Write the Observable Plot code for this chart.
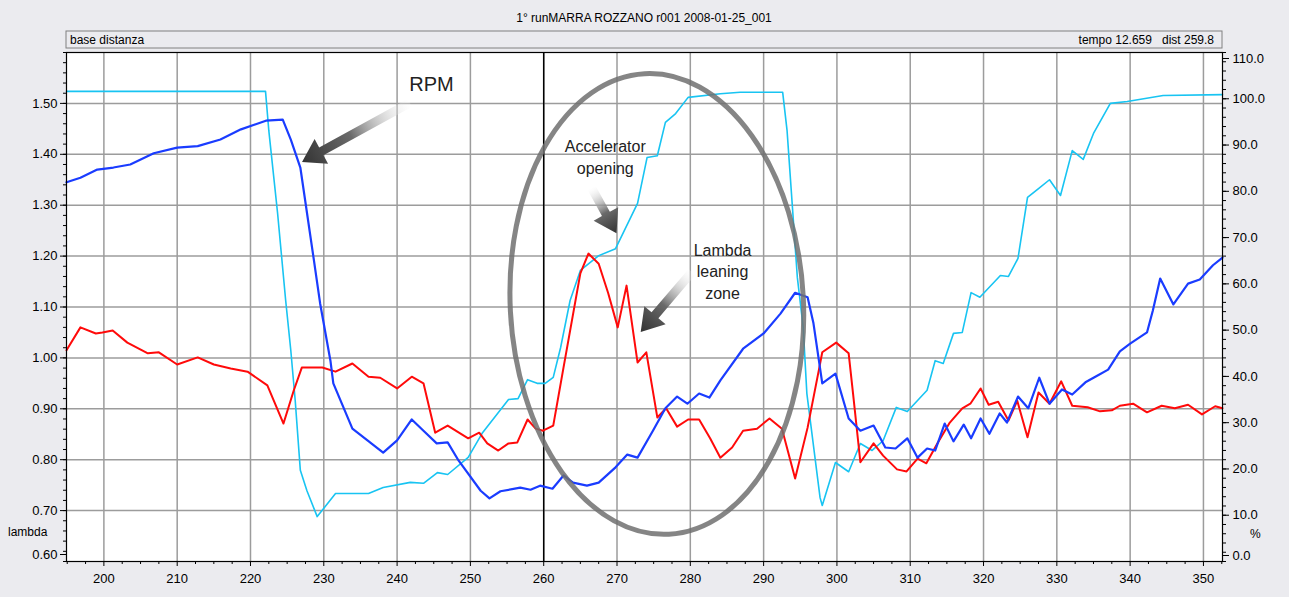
<!DOCTYPE html>
<html><head><meta charset="utf-8">
<script src="https://cdn.jsdelivr.net/npm/d3@7"></script>
<script src="https://cdn.jsdelivr.net/npm/@observablehq/plot@0.6"></script>
<style>
html,body{margin:0;padding:0;background:#ebebef;}
#chart{width:1289px;height:597px;overflow:hidden;}
</style></head>
<body><div id="chart"></div>
<script>
// ---- Texts ----
const titleText = "1° runMARRA ROZZANO r001 2008-01-25_001";
const headerLeft = "base distanza";
const headerRight = "tempo 12.659   dist 259.8";
const leftAxisName = "lambda";
const rightAxisName = "%";

// ---- Axis ticks ----
const xTicks = [200,210,220,230,240,250,260,270,280,290,300,310,320,330,340,350];
const lambdaTicks = [0.60,0.70,0.80,0.90,1.00,1.10,1.20,1.30,1.40,1.50];
const pctTicks = [0,10,20,30,40,50,60,70,80,90,100,110];
const cursorDistance = [260];

// ---- Lambda (red, left axis) ----
const lambdaX = [194.9,196.8,198.9,199.8,201.2,203.2,206.0,207.5,210.0,212.8,215.0,217.3,219.6,222.3,224.5,225.9,227.0,229.8,231.6,233.9,236.1,237.7,240.0,242.0,243.6,245.2,246.9,249.7,251.2,252.3,253.8,255.2,256.4,257.8,258.9,259.9,261.3,262.7,265.0,266.1,267.5,268.8,270.1,271.3,272.8,274.0,275.5,276.7,278.2,279.7,281.2,282.7,284.1,285.7,287.2,289.1,290.8,292.5,294.3,296.0,297.6,298.0,299.9,301.6,302.2,303.2,305.0,306.3,308.2,309.5,311.0,312.2,313.7,315.4,317.1,318.2,319.6,320.7,322.0,323.4,324.6,326.0,327.5,329.0,330.6,332.1,334.2,335.9,337.5,338.6,340.4,342.3,344.3,346.1,347.9,349.8,351.6,352.6];
const lambdaY = [1.015,1.060,1.048,1.050,1.054,1.030,1.009,1.011,0.987,1.001,0.987,0.979,0.973,0.946,0.871,0.936,0.981,0.981,0.973,0.989,0.963,0.961,0.940,0.963,0.950,0.853,0.867,0.842,0.853,0.832,0.818,0.832,0.834,0.879,0.861,0.857,0.867,0.981,1.166,1.205,1.185,1.127,1.060,1.142,0.991,1.011,0.883,0.901,0.865,0.879,0.879,0.842,0.804,0.824,0.857,0.861,0.881,0.861,0.763,0.863,0.981,1.011,1.030,1.009,0.930,0.795,0.832,0.808,0.781,0.777,0.802,0.793,0.832,0.873,0.901,0.910,0.940,0.908,0.914,0.877,0.916,0.844,0.932,0.910,0.954,0.906,0.903,0.895,0.897,0.906,0.910,0.893,0.906,0.901,0.908,0.889,0.905,0.901];

// ---- RPM (blue, no own axis: values as read on the lambda scale) ----
const rpmX = [194.9,196.8,199.1,201.3,203.6,206.8,210.0,212.8,215.9,218.7,222.1,224.4,225.5,226.8,228.6,229.5,230.9,231.3,233.9,238.1,240.0,242.0,243.6,245.4,246.9,248.4,251.4,252.6,254.1,256.8,258.2,259.5,261.2,262.7,264.0,265.9,267.5,269.8,271.4,272.8,274.9,276.6,278.2,279.6,281.2,282.6,284.1,287.2,290.0,292.3,294.3,296.0,296.8,298.0,299.8,301.6,303.2,305.0,306.6,308.0,309.6,311.0,312.3,313.4,314.7,315.9,317.3,318.3,319.6,320.8,322.2,323.2,324.7,326.1,327.6,329.0,330.7,332.1,333.9,335.5,337.0,338.6,340.0,342.3,343.1,344.1,345.9,347.9,349.5,351.3,352.6];
const rpmY = [1.345,1.354,1.370,1.374,1.380,1.402,1.413,1.416,1.429,1.449,1.466,1.468,1.429,1.374,1.197,1.107,0.995,0.950,0.861,0.814,0.838,0.879,0.857,0.832,0.834,0.798,0.739,0.724,0.738,0.745,0.741,0.749,0.743,0.769,0.755,0.749,0.755,0.785,0.810,0.804,0.857,0.901,0.924,0.910,0.930,0.922,0.956,1.018,1.048,1.087,1.128,1.119,1.068,0.950,0.969,0.881,0.857,0.867,0.824,0.822,0.842,0.804,0.822,0.818,0.871,0.836,0.869,0.842,0.881,0.851,0.891,0.873,0.924,0.901,0.961,0.910,0.938,0.928,0.952,0.965,0.977,1.013,1.028,1.050,1.093,1.156,1.105,1.146,1.154,1.182,1.197];

// ---- Accelerator opening (cyan, right axis, %) ----
const accelX = [194.9,203.6,222.05,222.5,223.7,224.8,225.5,226.1,226.8,227.7,229.1,231.6,236.1,238.1,241.8,243.6,245.5,246.9,249.7,251.6,255.2,256.5,257.8,259.1,260.2,261.3,262.3,263.6,265.0,267.5,269.8,272.8,274.1,275.5,276.6,278.0,279.7,284.1,286.8,292.6,293.2,294.6,295.4,295.9,297.7,298.0,299.8,301.6,303.2,304.8,306.3,308.1,309.6,312.3,313.4,314.5,315.9,317.1,318.3,319.5,322.3,323.4,324.7,326.0,327.5,329.0,330.5,332.1,333.6,335.0,337.3,339.6,344.5,352.6];
const accelPct = [101.6,101.6,101.6,93.1,75.2,56.4,45.6,34.8,19.7,15.3,9.7,14.7,14.7,16.0,17.1,16.9,19.2,18.8,22.5,27.7,35.0,35.2,39.3,38.5,38.5,39.8,46.2,56.4,62.9,66.1,67.6,77.4,87.3,87.7,94.9,96.8,100.3,101.1,101.4,101.4,93.1,61.4,50.6,36.3,13.8,12.1,21.4,19.4,25.5,24.0,26.1,33.3,32.4,37.0,43.4,42.8,49.3,49.5,58.1,57.1,61.8,61.6,65.5,78.7,80.6,82.5,79.1,88.8,86.9,92.5,99.0,99.4,100.7,100.9];

// ---- Annotations (data coordinates) ----
const annotTexts = [
  {x:244.7, y:1.537, text:"RPM", size:20},
  {x:268.4, y:1.396, text:"Accelerator\nopening", size:16},
  {x:284.4, y:1.172, text:"Lambda\nleaning\nzone", size:16}
];
const annotArrows = [
  {x1:241.8, y1:1.500, x2:227.1, y2:1.384},
  {x1:266.6, y1:1.333, x2:270.0, y2:1.244},
  {x1:280.3, y1:1.168, x2:273.3, y2:1.050}
];
const annotEllipse = {cx:275.5, cy:1.105, rx:20.0, ry:0.453};

// ---- Build ----
const pctToL = p => 0.6 + p / 110;
const lambdaData = lambdaX.map((x,i)=>({x, y:lambdaY[i]}));
const rpmData = rpmX.map((x,i)=>({x, y:rpmY[i]}));
const accelData = accelX.map((x,i)=>({x, y:pctToL(accelPct[i])}));

const minorX = d3.range(195, 352.6, 2.5).filter(v => !xTicks.includes(v));
const minorL = d3.range(0.6, 1.6001, 0.02);
const minorP = d3.range(0, 110.01, 2).map(pctToL);
const font = "Liberation Sans, Arial, sans-serif";

const plot = Plot.plot({
  width:1289, height:597,
  marginLeft:66, marginRight:67, marginTop:52, marginBottom:36,
  style:{background:"transparent", fontFamily:font, fontSize:"13px", color:"#000", overflow:"visible"},
  x:{domain:[194.9,352.6]},
  y:{domain:[0.6,1.6]},
  marks:[
    Plot.frame({fill:"white", stroke:null}),
    Plot.gridX(xTicks, {stroke:"#9c9c9c", strokeOpacity:1, strokeWidth:1.5}),
    Plot.gridY(lambdaTicks.slice(1), {stroke:"#9c9c9c", strokeOpacity:1, strokeWidth:1.5}),
    Plot.ruleX(cursorDistance, {stroke:"#000", strokeWidth:1.5}),
    Plot.line(accelData, {x:"x", y:"y", stroke:"#18c4f2", strokeWidth:1.6}),
    Plot.line(lambdaData, {x:"x", y:"y", stroke:"#ff0a0a", strokeWidth:2}),
    Plot.line(rpmData, {x:"x", y:"y", stroke:"#1a3cff", strokeWidth:2.2}),
    Plot.frame({stroke:"#000", strokeWidth:1.2}),
    // x axis
    Plot.axisX(xTicks, {tickSize:5, tickPadding:7, tickFormat:d=>String(d), label:null}),
    Plot.axisX(minorX, {tickSize:3, tickFormat:()=>"", label:null}),
    // left axis
    Plot.axisY(lambdaTicks.slice(1), {anchor:"left", tickSize:6, tickPadding:3, tickFormat:d3.format(".2f"), label:null}),
    Plot.axisY([0.6], {anchor:"left", tickSize:6, tickPadding:3, dy:-7, tickFormat:d3.format(".2f"), label:null}),
    Plot.axisY(minorL, {anchor:"left", tickSize:3, tickFormat:()=>"", label:null}),
    // right axis
    Plot.axisY(pctTicks.slice(1,-1).map(pctToL), {anchor:"right", tickSize:6, tickPadding:4, tickFormat:d=>((d-0.6)*110).toFixed(1), label:null}),
    Plot.axisY([pctToL(0)], {anchor:"right", tickSize:6, tickPadding:4, dy:-6, tickFormat:d=>((d-0.6)*110).toFixed(1), label:null}),
    Plot.axisY([pctToL(110)], {anchor:"right", tickSize:6, tickPadding:4, dy:6, tickFormat:d=>((d-0.6)*110).toFixed(1), label:null}),
    Plot.axisY(minorP, {anchor:"right", tickSize:3, tickFormat:()=>"", label:null}),
    // annotation texts
    Plot.text(annotTexts.filter(d=>d.size===20), {x:"x", y:"y", text:"text", fontSize:20, fill:"#222", fontFamily:font}),
    Plot.text(annotTexts.filter(d=>d.size===16), {x:"x", y:"y", text:"text", fontSize:16, lineHeight:1.35, fill:"#222", fontFamily:font})
  ]
});
document.getElementById("chart").appendChild(plot);

const sx = plot.scale("x"), sy = plot.scale("y");
const svg = d3.select(plot);
const defs = svg.append("defs");

// ellipse annotation
const ecx = sx.apply(annotEllipse.cx), ecy = sy.apply(annotEllipse.cy);
const erx = sx.apply(annotEllipse.cx + annotEllipse.rx) - ecx;
const ery = ecy - sy.apply(annotEllipse.cy + annotEllipse.ry);
svg.append("ellipse")
  .attr("cx", ecx).attr("cy", ecy).attr("rx", erx).attr("ry", ery)
  .attr("transform", `rotate(-3 ${ecx} ${ecy})`)
  .attr("fill", "none").attr("stroke", "#707070").attr("stroke-width", 5).attr("stroke-opacity", 0.85);

// gradient arrows
annotArrows.forEach((a, i) => {
  const x1 = sx.apply(a.x1), y1 = sy.apply(a.y1), x2 = sx.apply(a.x2), y2 = sy.apply(a.y2);
  const dx = x2-x1, dy = y2-y1, len = Math.hypot(dx,dy), ux = dx/len, uy = dy/len, nx = -uy, ny = ux;
  const hl = 22, hw = 14, sw = 4.5;
  const bx = x2-ux*hl, by = y2-uy*hl;
  const pts = [[x1+nx*sw,y1+ny*sw],[bx+nx*sw,by+ny*sw],[bx+nx*hw,by+ny*hw],[x2,y2],[bx-nx*hw,by-ny*hw],[bx-nx*sw,by-ny*sw],[x1-nx*sw,y1-ny*sw]];
  const gid = "ag"+i;
  const g = defs.append("linearGradient").attr("id", gid).attr("gradientUnits","userSpaceOnUse")
    .attr("x1", x1).attr("y1", y1).attr("x2", x2).attr("y2", y2);
  g.append("stop").attr("offset","0").attr("stop-color","#ffffff").attr("stop-opacity",0.2);
  g.append("stop").attr("offset","0.55").attr("stop-color","#6a6a6a");
  g.append("stop").attr("offset","1").attr("stop-color","#333");
  svg.append("polygon").attr("points", pts.map(p=>p.join(",")).join(" ")).attr("fill", `url(#${gid})`);
});

// title & header
svg.append("text").attr("x", 644).attr("y", 22).attr("text-anchor","middle")
  .attr("font-family", font).attr("font-size", 12).attr("fill","#000").text(titleText);
svg.append("rect").attr("x", 66).attr("y", 31).attr("width", 1156).attr("height", 17)
  .attr("fill", "#ebebef").attr("stroke", "#808080").attr("stroke-width", 1);
svg.append("text").attr("x", 70).attr("y", 44).attr("text-anchor","start").attr("font-family", font).attr("font-size", 12).attr("fill","#000").text(headerLeft);
svg.append("text").attr("x", 1214).attr("y", 44).attr("text-anchor","end").attr("font-family", font).attr("font-size", 12)
  .attr("fill","#000").attr("xml:space","preserve").style("white-space","pre").text(headerRight);
// axis names
svg.append("text").attr("x", 8).attr("y", 536).attr("text-anchor","start").attr("font-family", font).attr("font-size", 12).attr("fill","#000").text(leftAxisName);
svg.append("text").attr("x", 1250).attr("y", 538).attr("text-anchor","start").attr("font-family", font).attr("font-size", 12).attr("fill","#000").text(rightAxisName);
</script>
</body></html>
